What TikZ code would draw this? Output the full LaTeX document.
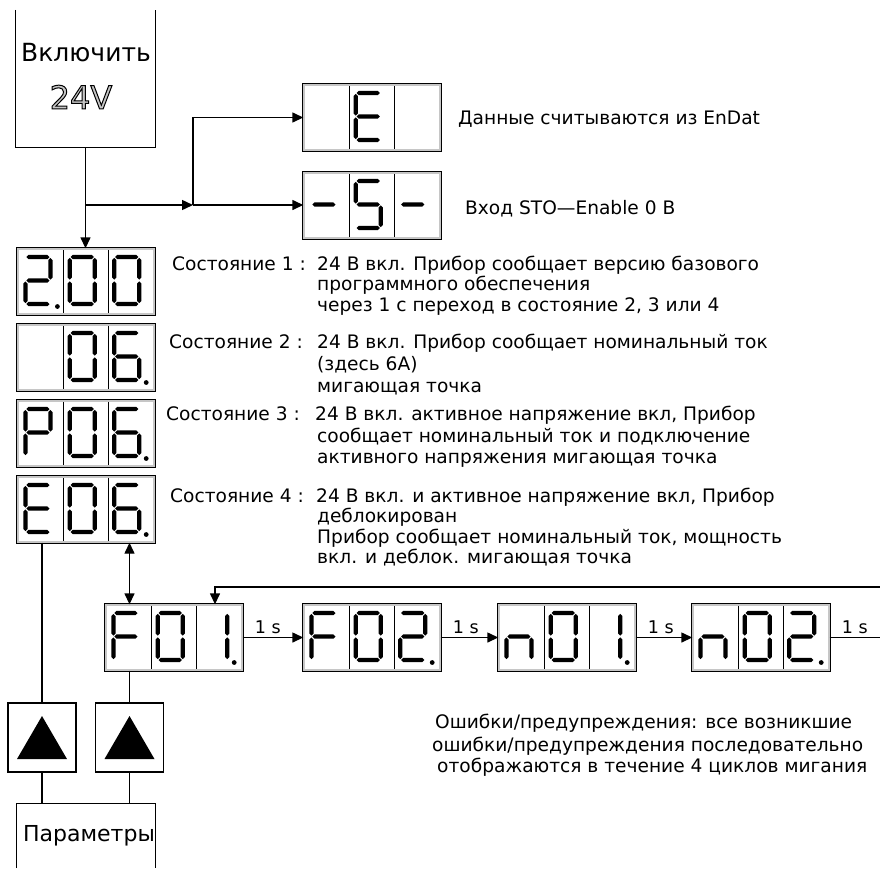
\documentclass[tikz,border=0pt]{standalone}
\usepackage{fontspec}
\setmainfont{DejaVu Sans}
\usetikzlibrary{arrows.meta,calc}

\newcommand{\sgGap}{0.9}
\newcommand{\sgHalf}{2.1}
\newcommand{\hseg}[3]{\fill ({#1+\sgGap},{#3}) -- ({#1+\sgGap+\sgHalf},{#3-\sgHalf}) -- ({#2-\sgGap-\sgHalf},{#3-\sgHalf}) -- ({#2-\sgGap},{#3}) -- ({#2-\sgGap-\sgHalf},{#3+\sgHalf}) -- ({#1+\sgGap+\sgHalf},{#3+\sgHalf}) -- cycle;}
\newcommand{\vseg}[3]{\fill ({#1},{#2+\sgGap}) -- ({#1+\sgHalf},{#2+\sgGap+\sgHalf}) -- ({#1+\sgHalf},{#3-\sgGap-\sgHalf}) -- ({#1},{#3-\sgGap}) -- ({#1-\sgHalf},{#3-\sgGap-\sgHalf}) -- ({#1-\sgHalf},{#2+\sgGap+\sgHalf}) -- cycle;}
\newcommand{\svnsega}{\hseg{\dXl}{\dXr}{\dYt}}
\newcommand{\svnsegb}{\vseg{\dXr}{\dYt}{\dYm}}
\newcommand{\svnsegc}{\vseg{\dXr}{\dYm}{\dYb}}
\newcommand{\svnsegd}{\hseg{\dXl}{\dXr}{\dYb}}
\newcommand{\svnsege}{\vseg{\dXl}{\dYm}{\dYb}}
\newcommand{\svnsegf}{\vseg{\dXl}{\dYt}{\dYm}}
\newcommand{\svnsegg}{\hseg{\dXl}{\dXr}{\dYm}}
\newcommand{\sevenseg}[3]{%
  \pgfmathsetmacro\dXl{#1}\pgfmathsetmacro\dXr{#1+25}%
  \pgfmathsetmacro\dYt{#2}\pgfmathsetmacro\dYm{#2+23.5}\pgfmathsetmacro\dYb{#2+47}%
  \foreach \s in {#3}{\csname svnseg\s\endcsname}}
\newcommand{\dispbox}[7]{%
  \node[disp] (#1) at ({#2+70},{#3+34.5}) {};
  \draw[divider] ({#2+47.8},{#3+3.4}) -- ({#2+47.8},{#3+65.6});
  \draw[divider] ({#2+92.2},{#3+3.4}) -- ({#2+92.2},{#3+65.6});
  \sevenseg{#2+9.4}{#3+10}{#4}
  \sevenseg{#2+53.8}{#3+10}{#5}
  \sevenseg{#2+98.2}{#3+10}{#6}
  \ifnum#7>-1 \fill ({#2+41.4+44.4*#7},{#3+59.5}) circle (2.4);\fi}

\tikzset{
  conn/.style={line width=1.4pt, -{Triangle[length=11pt,width=10pt]}},
  bothconn/.style={line width=1.4pt, {Triangle[length=11pt,width=10pt]}-{Triangle[length=11pt,width=10pt]}},
  plainline/.style={line width=1.4pt},
  disp/.style={draw, double=gray!45, double distance=1.8pt, line width=0.8pt, minimum width=136.6pt, minimum height=65.6pt, inner sep=0pt, fill=white},
  divider/.style={line width=0.8pt},
  frame/.style={line width=1.2pt},
  txt/.style={inner sep=0pt, anchor=base west, font=\fontsize{18.6}{21}\selectfont},
  onesec/.style={inner sep=0pt, anchor=base west, font=\fontsize{17.5}{20}\selectfont},
  bigtxt/.style={inner sep=0pt, font=\fontsize{25}{28}\selectfont},
  keybox/.style={draw, line width=1.2pt, minimum width=68pt, minimum height=69pt, inner sep=0pt},
}

\begin{document}
\begin{tikzpicture}[x=1pt,y=-1pt]
\useasboundingbox (0,0) rectangle (880,868);

% power box
\node[minimum width=139pt, minimum height=137pt, inner sep=0pt] (pwr) at (85.5,78.5) {};
\draw[frame] (pwr.north west) -- (pwr.south west) -- (pwr.south east) -- (pwr.north east);
\node[bigtxt] (pwrtxt) at (86,53) {Включить};
\node[inner sep=0pt, font=\fontsize{32}{35}\selectfont, text=gray!45] (v24) at (81,97) {\special{pdf:literal direct 2 Tr 1.0 w 0 G}24V\special{pdf:literal direct 0 Tr}};

% displays
\dispbox{dE}{302}{83}{}{a,d,e,f,g}{}{-1}
\dispbox{dS}{302}{171}{g}{a,f,g,c,d}{g}{-1}
\dispbox{d200}{16}{247}{a,b,g,e,d}{a,b,c,d,e,f}{a,b,c,d,e,f}{0}
\dispbox{d06}{16}{323}{}{a,b,c,d,e,f}{a,f,g,e,d,c}{2}
\dispbox{dP}{16}{399}{a,b,f,g,e}{a,b,c,d,e,f}{a,f,g,e,d,c}{2}
\dispbox{dE06}{16}{475}{a,d,e,f,g}{a,b,c,d,e,f}{a,f,g,e,d,c}{2}
\dispbox{F01}{104}{603}{a,f,g,e}{a,b,c,d,e,f}{b,c}{2}
\dispbox{F02}{302}{603}{a,f,g,e}{a,b,c,d,e,f}{a,b,g,e,d}{2}
\dispbox{n01}{497}{603}{c,e,g}{a,b,c,d,e,f}{b,c}{2}
\dispbox{n02}{691}{603}{c,e,g}{a,b,c,d,e,f}{a,b,g,e,d}{2}

% top connectors
\coordinate (j1) at (85.5,205);
\coordinate (j2) at (193,205);
\draw[conn] (pwr.south) -- (pwr.south |- d200.north);
\draw[conn] (j1) -- (j2);
\draw[conn] (j2) -- (j2 -| dS.west);
\draw[conn] (j2) |- (dE.west);

\node[txt] (tE) at (458,124) {Данные считываются из EnDat};
\node[txt] (tS) at (465,214) {Вход STO—Enable 0 В};

% state texts
\node[txt] (l1) at (172,270) {Состояние 1 :};
\node[txt] (a1) at (317,270) {24 В вкл. Прибор сообщает версию базового};
\node[txt] (b1) at (317,290) {программного обеспечения};
\node[txt] (c1) at (317,311) {через 1 с переход в состояние 2, 3 или 4};

\node[txt] (l2) at (169,348) {Состояние 2 :};
\node[txt] (a2) at (317,348) {24 В вкл. Прибор сообщает номинальный ток};
\node[txt] (b2) at (317,370) {(здесь 6А)};
\node[txt] (c2) at (317,392) {мигающая точка};

\node[txt] (l3) at (166,420) {Состояние 3 :};
\node[txt] (a3) at (315,420) {24 В вкл. активное напряжение вкл, Прибор};
\node[txt] (b3) at (317,442) {сообщает номинальный ток и подключение};
\node[txt] (c3) at (317,463) {активного напряжения мигающая точка};

\node[txt] (l4) at (170,502) {Состояние 4 :};
\node[txt] (a4) at (316,502) {24 В вкл. и активное напряжение вкл, Прибор};
\node[txt] (b4) at (317,522) {деблокирован};
\node[txt] (c4) at (317,543) {Прибор сообщает номинальный ток, мощность};
\node[txt] (d4) at (317,563) {вкл. и деблок. мигающая точка};

% chain
\draw[conn] (F01.east) -- (F02.west);
\draw[conn] (F02.east) -- (n01.west);
\draw[conn] (n01.east) -- (n02.west);
\coordinate (oR) at (880,637.5);
\draw[plainline] (n02.east) -- (oR);
\node[onesec] (s1) at ($(F01.east)+(12,-4)$) {1 s};
\node[onesec] (s2) at ($(F02.east)+(12,-4)$) {1 s};
\node[onesec] (s3) at ($(n01.east)+(12,-4)$) {1 s};
\node[onesec] (s4) at ($(n02.east)+(12,-4)$) {1 s};
\coordinate (lR) at (880,587);
\coordinate (lp) at (215,587);
\draw[conn] (lR) -- (lp) -- (lp |- F01.north);

% keys
\node[keybox] (tb1) at (42,737.5) {};
\node[keybox] (tb2) at (129.5,737.5) {};
\fill ($(tb1.center)+(-25,21.5)$) -- ++(50,0) -- ++(-25,-43) -- cycle;
\fill ($(tb2.center)+(-25,21.5)$) -- ++(50,0) -- ++(-25,-43) -- cycle;
\node[minimum width=138pt, minimum height=64pt, inner sep=0pt] (par) at (86,836) {};
\draw[frame] (par.south west) -- (par.north west) -- (par.north east) -- (par.south east);
\node[bigtxt, font=\fontsize{22}{25}\selectfont] (partxt) at (89,836) {Параметры};

\draw[plainline] (tb1.north |- dE06.south) -- (tb1.north);
\draw[bothconn] (tb2.north |- dE06.south) -- (tb2.north |- F01.north);
\draw[plainline] (tb2.north |- F01.south) -- (tb2.north);
\draw[plainline] (tb1.south) -- (tb1.south |- par.north);
\draw[plainline] (tb2.south) -- (tb2.south |- par.north);

% bottom text
\node[txt] (e1) at (435,728) {Ошибки/предупреждения:  все возникшие};
\node[txt] (e2) at (432,751) {ошибки/предупреждения последовательно};
\node[txt] (e3) at (437,772) {отображаются в течение 4 циклов мигания};
\end{tikzpicture}
\end{document}
